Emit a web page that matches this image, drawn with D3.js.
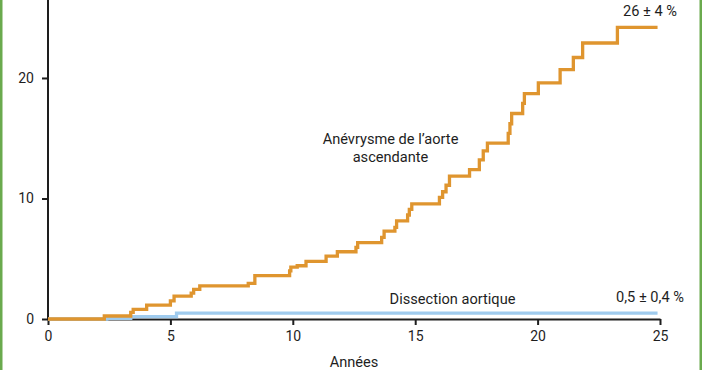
<!DOCTYPE html>
<html><head><meta charset="utf-8">
<script src="https://cdn.jsdelivr.net/npm/d3@7"></script>
<style>html,body{margin:0;padding:0;background:#fff;}svg{display:block;}</style>
</head><body>
<svg id="c" width="702" height="370"></svg>
<script>
// Data (cumulative incidence, %)
const anevrysmeTimes = [0, 2.3, 3.38, 3.48, 4.03, 5.0, 5.15, 5.85, 5.95, 6.2, 8.18, 8.45, 9.87, 9.92, 10.18, 10.54, 11.36, 11.82, 12.58, 12.65, 13.63, 13.73, 14.17, 14.24, 14.69, 14.76, 14.86, 15.99, 16.12, 16.26, 16.4, 17.22, 17.62, 17.78, 17.95, 18.8, 18.87, 18.94, 19.39, 19.46, 20.03, 20.92, 21.46, 21.84, 23.26, 24.9];
const anevrysmeValues = [0, 0.25, 0.55, 0.8, 1.15, 1.5, 1.9, 2.15, 2.45, 2.75, 2.95, 3.6, 4.0, 4.3, 4.42, 4.78, 5.22, 5.58, 5.95, 6.33, 6.78, 7.3, 7.6, 8.15, 8.63, 9.1, 9.55, 10.1, 10.56, 11.1, 11.85, 12.4, 13.2, 13.95, 14.6, 15.4, 16.2, 17.05, 17.9, 18.7, 19.6, 20.7, 21.7, 22.9, 24.2, 24.2];
const dissectionTimes = [0, 2.4, 3.38, 5.25, 24.9];
const dissectionValues = [0, 0.06, 0.2, 0.48, 0.48];
const xTicks = [0, 5, 10, 15, 20, 25];
const yTicks = [0, 10, 20];
const xLabel = "Années";
const seriesLabels = ["Anévrysme de l’aorte", "ascendante", "Dissection aortique"];
const endLabels = ["26 ± 4 %", "0,5 ± 0,4 %"];

const svg = d3.select("#c");
const font = "Roboto, 'DejaVu Sans', sans-serif";
const ink = "#1e1e1e";

// green frame edges
svg.append("rect").attr("x", 0).attr("y", 0).attr("width", 2.5).attr("height", 370).attr("fill", "#6aaa4e");
svg.append("rect").attr("x", 699.5).attr("y", 0).attr("width", 2.5).attr("height", 370).attr("fill", "#6aaa4e");

const x = d3.scaleLinear().domain([0, 25]).range([48, 660]);
const y = d3.scaleLinear().domain([0, 26.47]).range([319, 0]);

// axes
const xAxis = svg.append("g").attr("transform", `translate(0,${y(0)})`)
  .call(d3.axisBottom(x).tickValues(xTicks).tickSize(6).tickPadding(6).tickSizeOuter(0));
const yAxis = svg.append("g").attr("transform", `translate(${x(0)},0)`)
  .call(d3.axisLeft(y).tickValues(yTicks).tickSize(6).tickPadding(8).tickSizeOuter(0));
[xAxis, yAxis].forEach(g => {
  g.selectAll("path.domain").attr("stroke", ink).attr("stroke-width", 2);
  g.selectAll(".tick line").attr("stroke", ink).attr("stroke-width", 2);
  g.selectAll(".tick text").attr("fill", ink).style("font-family", font).style("font-size", "14px");
});
// extend y axis line to top
yAxis.select("path.domain").attr("d", `M0,${y(0)}V0`);

const line = d3.line().curve(d3.curveStepAfter).x(d => x(d[0])).y(d => y(d[1]));

svg.append("path")
  .datum(dissectionTimes.map((t, i) => [t, dissectionValues[i]]))
  .attr("d", line).attr("fill", "none").attr("stroke", "#9fcbee").attr("stroke-width", 3.3);

svg.append("path")
  .datum(anevrysmeTimes.map((t, i) => [t, anevrysmeValues[i]]))
  .attr("d", line).attr("fill", "none").attr("stroke", "#df952f").attr("stroke-width", 3.3);

// text
const txt = (s, cx, cy, size) => svg.append("text").attr("x", cx).attr("y", cy)
  .attr("text-anchor", "middle").attr("dominant-baseline", "central")
  .attr("fill", ink).style("font-family", font).style("font-size", size + "px").text(s);

txt(seriesLabels[0], 390.5, 138.5, 14.6);
txt(seriesLabels[1], 390.5, 156.5, 14.6);
txt(seriesLabels[2], 452.5, 298.5, 14.6);
txt(endLabels[0], 650, 11, 14.6);
txt(endLabels[1], 650, 297, 14.6);
txt(xLabel, 354, 362, 14.6);
</script>
</body></html>
